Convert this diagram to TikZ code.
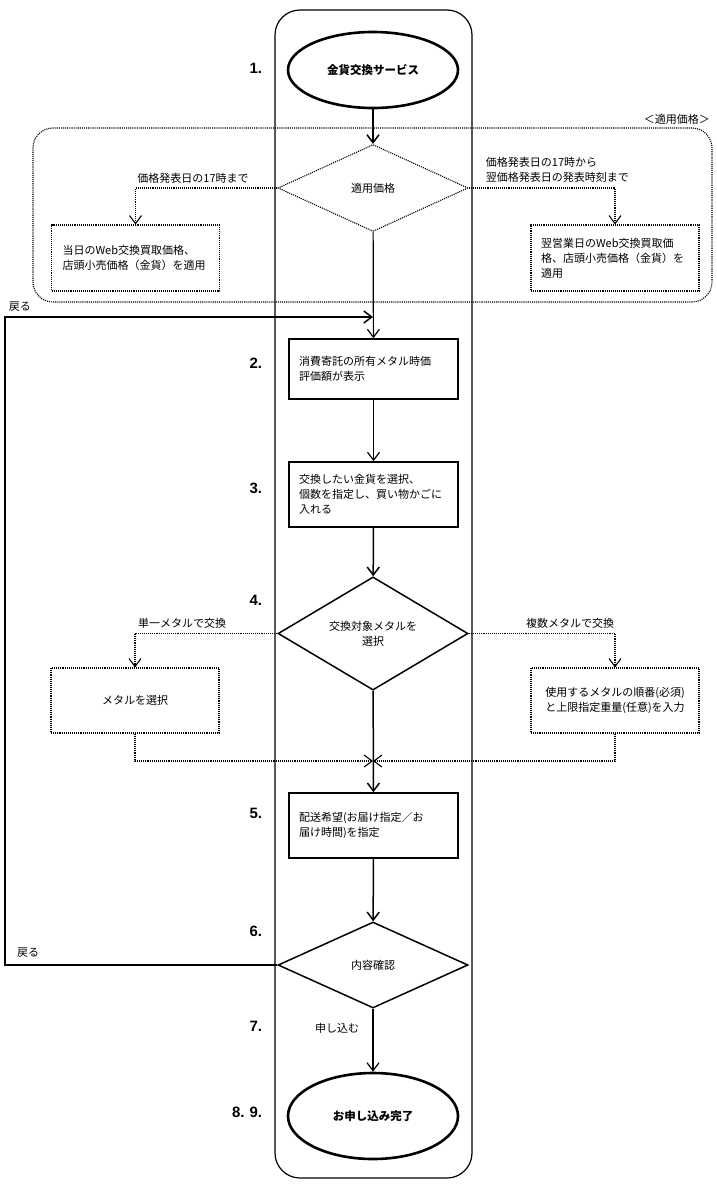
\documentclass[tikz,border=0pt]{standalone}
\usepackage{fontspec}
\setmainfont{Noto Sans CJK JP}
\newfontfamily\numfont{Liberation Sans}
\usetikzlibrary{shapes.geometric,arrows.meta}

\begin{document}
\begin{tikzpicture}[x=1pt,y=-1pt,
		font=\fontsize{11}{15}\selectfont,
		line width=1.2pt,
		arr/.style={-{Straight Barb[length=8pt,width=12pt]}},
		dots/.style={densely dotted,line width=1.1pt},
		proc/.style={draw,line width=1.5pt,minimum width=169pt,text width=149pt,align=left,inner sep=0pt},
		note/.style={draw,dots,minimum width=168pt,minimum height=66pt,inner sep=0pt},
		term/.style={draw,ellipse,line width=2.6pt,minimum width=170pt,font=\fontsize{11.5}{13}\selectfont\bfseries},
		choice/.style={draw,diamond,minimum width=190pt,inner sep=0pt,align=center},
		num/.style={anchor=east,font=\numfont\bfseries\fontsize{15}{15}\selectfont}]
	\useasboundingbox (0,0) rectangle (717,1188);
	\node[draw,rounded corners=25pt,minimum width=197pt,minimum height=1168pt] (lane) at (373.5,594) {};
	\node[draw,dots,rounded corners=20pt,minimum width=679pt,minimum height=174pt] (grp) at (372.5,215) {};
	\node[anchor=south east,inner sep=2pt] (grplbl) at (grp.north east) {＜適用価格＞};
	% nodes
	\node[term,minimum height=76pt] (start) at (373,70) {金貨交換サービス};
	\node[choice,dots,minimum height=87pt] (d1) at (373,188) {適用価格};
	\node[note,text width=146pt,align=left] (boxA) at (135.5,258) {当日のWeb交換買取価格、\\店頭小売価格（金貨）を適用};
	\node[note,text width=148pt,align=left] (boxB) at (615,258) {翌営業日のWeb交換買取価\\格、店頭小売価格（金貨）を\\適用};
	\node (lblA) at (193,178) {価格発表日の17時まで};
	\node[anchor=west,align=left] (lblB) at (482,170) {価格発表日の17時から\\翌価格発表日の発表時刻まで};
	\node[proc,minimum height=60pt] (s2) at (373.5,369) {消費寄託の所有メタル時価\\評価額が表示};
	\node[proc,minimum height=65pt] (s3) at (373.5,494.5) {交換したい金貨を選択、\\個数を指定し、買い物かごに\\入れる};
	\node[choice,line width=1.5pt,minimum height=81pt] (d4) at (373,633.5) {交換対象メタルを\\選択};
	\node[note,minimum height=65pt] (boxC) at (135,700.5) {メタルを選択};
	\node[note,minimum height=65pt,align=center] (boxD) at (615,700.5) {使用するメタルの順番(必須)\\と上限指定重量(任意)を入力};
	\node (lblC) at (182,623) {単一メタルで交換};
	\node (lblD) at (570,623) {複数メタルで交換};
	\coordinate (mrg) at (373,761);
	\node[proc,minimum height=65pt] (s5) at (373.5,825.5) {配送希望(お届け指定／お\\届け時間)を指定};
	\node[choice,line width=1.5pt,minimum height=86pt] (d6) at (373,965) {内容確認};
	\node[term,minimum height=86pt] (fin) at (373,1116) {お申し込み完了};
	\node (lblE) at (337,1028) {申し込む};
	\coordinate (turn) at (5,965);
	\coordinate (ret) at (373,317);
	\node (back1) at (20,307) {戻る};
	\node (back2) at (28,953) {戻る};
	% step numbers
	\node[num] (n1) at (266,68) {1.};
	\node[num] (n2) at (266,363) {2.};
	\node[num] (n3) at (266,488) {3.};
	\node[num] (n4) at (266,600) {4.};
	\node[num] (n5) at (266,813) {5.};
	\node[num] (n6) at (266,931) {6.};
	\node[num] (n7) at (266,1026) {7.};
	\node[num] (n8) at (266,1112) {8.\,\,9.};
	% connectors
	\draw[arr,line width=1.5pt] (start) -- (d1);
	\draw[arr] (d1) -- (s2);
	\draw[arr,dots] (d1.west) -| (boxA.north);
	\draw[arr,dots] (d1.east) -| (boxB.north);
	\draw[arr] (s2) -- (s3);
	\draw[arr,line width=1.5pt] (s3) -- (d4);
	\draw[arr,dots] (d4.west) -| (boxC.north);
	\draw[arr,dots] (d4.east) -| (boxD.north);
	\draw[arr,dots] (boxC.south) |- (mrg);
	\draw[arr,dots] (boxD.south) |- (mrg);
	\draw[arr,line width=1.5pt] (d4) -- (s5);
	\draw[arr,line width=1.5pt] (s5) -- (d6);
	\draw[arr] (d6) -- (fin);
	\draw[arr,line width=1.5pt] (d6.west) -- (turn) |- (ret);
\end{tikzpicture}
\end{document}
